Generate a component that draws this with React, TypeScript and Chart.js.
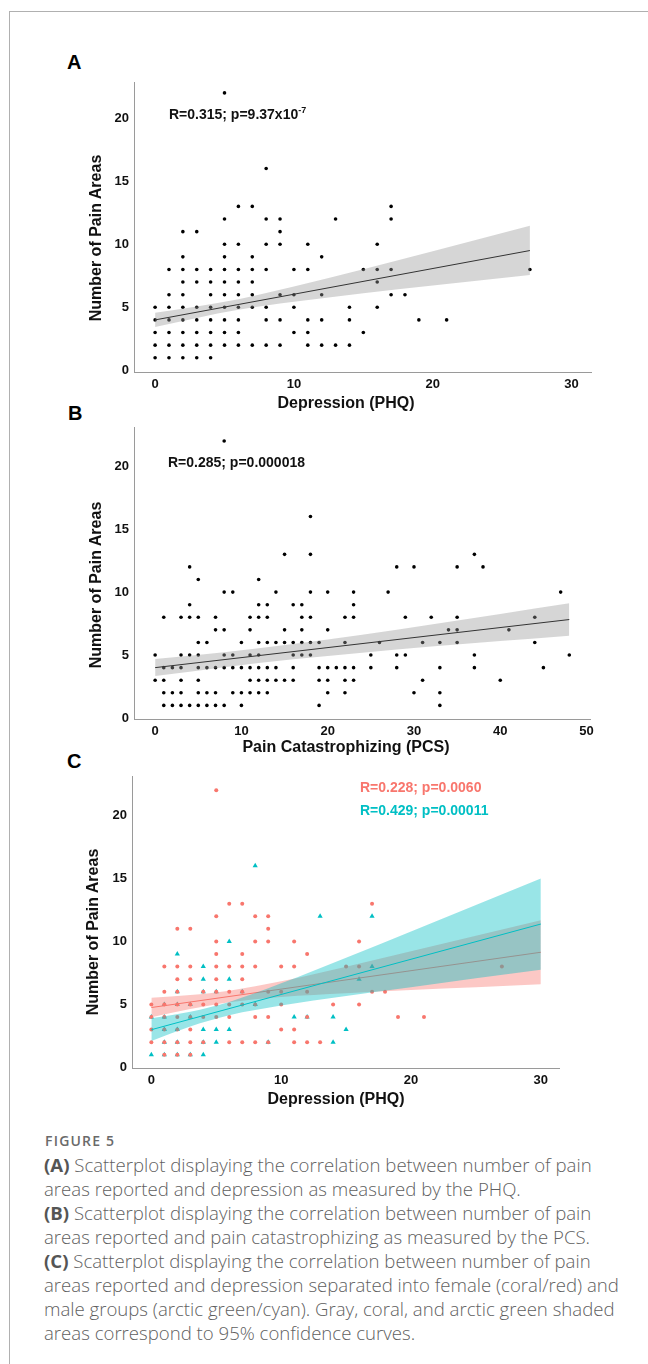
import React, { useEffect, useRef } from "react";
import { Chart, registerables } from "chart.js";

Chart.register(...registerables);

// ---------------- Panel A: pain areas vs depression (PHQ) ----------------
const phqA = [0, 1, 2, 3, 4, 5, 6, 7, 8, 9, 10, 11, 12, 13, 14, 15, 16, 17, 18, 19, 21, 27];
const painAreasA = [
  [1, 2, 3, 4, 5],
  [1, 2, 3, 4, 5, 6, 8],
  [1, 2, 3, 4, 5, 6, 7, 8, 9, 11],
  [1, 2, 3, 4, 5, 7, 8, 11],
  [1, 2, 3, 4, 5, 6, 7, 8],
  [2, 3, 4, 5, 6, 7, 8, 9, 10, 12, 22],
  [2, 3, 4, 5, 6, 7, 8, 10, 13],
  [2, 5, 6, 7, 8, 9, 13],
  [2, 4, 5, 8, 10, 12, 16],
  [2, 4, 6, 10, 11, 12],
  [3, 5, 6, 8],
  [2, 3, 4, 8, 10],
  [2, 4, 6, 9],
  [2, 12],
  [2, 4, 5],
  [3, 8],
  [5, 7, 8, 10],
  [6, 8, 12, 13],
  [6],
  [4],
  [4],
  [8],
];
const fitXA = [0, 27];
const fitYA = [4.0, 9.5];
const bandXA = [0, 3, 6, 10, 15, 20, 27];
const bandUpperA = [4.57, 5.06, 5.64, 6.64, 8.01, 9.44, 11.46];
const bandLowerA = [3.43, 4.16, 4.8, 5.44, 6.12, 6.72, 7.56];

// ---------------- Panel B: pain areas vs pain catastrophizing (PCS) ----------------
const pcsB = [0, 1, 2, 3, 4, 5, 6, 7, 8, 9, 10, 11, 12, 13, 14, 15, 16, 17, 18, 19, 20, 21, 22, 23, 25, 26, 27, 28, 29, 30, 31, 32, 33, 34, 35, 37, 38, 40, 41, 44, 45, 47, 48];
const painAreasB = [
  [3, 5],
  [1, 2, 3, 4, 8],
  [1, 2, 4],
  [1, 2, 3, 4, 5, 8],
  [1, 5, 8, 9, 12],
  [1, 2, 3, 4, 5, 6, 8, 11],
  [1, 2, 4, 6],
  [1, 2, 4, 7, 8],
  [1, 4, 5, 7, 10, 22],
  [2, 4, 5, 10],
  [1, 2, 4, 6],
  [2, 3, 4, 5, 7, 8],
  [2, 3, 4, 5, 6, 8, 9, 11],
  [2, 3, 4, 6, 8, 9],
  [3, 4, 6, 10],
  [3, 6, 7, 13],
  [3, 4, 5, 6, 9],
  [5, 6, 7, 8, 9],
  [5, 6, 8, 10, 13, 16],
  [1, 3, 4, 6],
  [2, 3, 4, 7, 10],
  [4],
  [2, 3, 4, 6, 8],
  [3, 4, 8, 9, 10],
  [4, 5],
  [6],
  [10],
  [4, 5, 12],
  [5, 8],
  [2, 12],
  [3, 6],
  [8],
  [1, 2, 4, 6],
  [7],
  [6, 7, 8, 12],
  [4, 5, 13],
  [12],
  [3],
  [7],
  [6, 8],
  [4],
  [10],
  [5],
];
const fitXB = [0, 48];
const fitYB = [4.0, 7.82];
const bandXB = [0, 8, 16, 24, 32, 40, 48];
const bandUpperB = [4.68, 5.23, 5.88, 6.62, 7.43, 8.26, 9.11];
const bandLowerB = [3.33, 4.04, 4.66, 5.19, 5.67, 6.11, 6.53];

// ---------------- Panel C: by sex, pain areas vs depression (PHQ) ----------------
const phqFemale = [0, 1, 2, 3, 4, 5, 6, 7, 8, 9, 10, 11, 12, 13, 14, 15, 16, 17, 18, 19, 21, 27];
const painFemale = [
  [2, 3, 4, 5],
  [1, 2, 3, 4, 5, 6, 8],
  [1, 2, 3, 4, 5, 6, 7, 8, 11],
  [1, 2, 3, 4, 5, 7, 8, 11],
  [2, 4, 5, 6],
  [4, 5, 6, 7, 8, 9, 10, 12, 22],
  [2, 4, 5, 6, 8, 13],
  [2, 5, 6, 7, 8, 9, 13],
  [2, 4, 5, 8, 10, 12],
  [2, 4, 6, 10, 11, 12],
  [3, 5, 6, 8],
  [2, 3, 8, 10],
  [2, 4, 6, 9],
  [2],
  [5],
  [8],
  [5, 8, 10],
  [6, 13],
  [6],
  [4],
  [4],
  [8],
];
const phqMale = [0, 1, 2, 3, 4, 5, 6, 7, 8, 9, 11, 12, 13, 14, 15, 16, 17];
const painMale = [
  [1, 4],
  [1, 2, 3, 4, 5],
  [1, 2, 3, 5, 6, 9],
  [1, 4, 5],
  [1, 2, 3, 6, 7, 8],
  [2, 3, 6],
  [3, 7, 10],
  [6],
  [5, 16],
  [2],
  [4],
  [4],
  [12],
  [2, 4],
  [3],
  [7],
  [8, 12],
];
const fitX_C = [0, 30];
const fitFemaleY = [4.75, 9.14];
const fitMaleY = [2.99, 11.38];
const bandX_C = [0, 3, 6, 10, 15, 20, 25, 30];
const bandFemaleUpper = [5.53, 5.75, 6.09, 6.83, 7.99, 9.21, 10.45, 11.69];
const bandFemaleLower = [3.97, 4.63, 5.17, 5.59, 5.89, 6.15, 6.37, 6.59];
const bandMaleUpper = [3.9, 4.42, 5.2, 6.67, 8.71, 10.79, 12.89, 15.0];
const bandMaleLower = [2.1, 3.25, 4.14, 4.91, 5.67, 6.37, 7.07, 7.76];

// ---------------- Ticks ----------------
const yTicks = [0, 5, 10, 15, 20];
const xTicksA = [0, 10, 20, 30];
const xTicksB = [0, 10, 20, 30, 40, 50];
const xTicksC = [0, 10, 20, 30];

// ---------------- Styling ----------------
const CORAL = "#F8766D";
const CYAN = "#00BFC4";
const AXIS = "#9a9a9a";
const SANS = '"Liberation Sans", Arial, Helvetica, sans-serif';

function points(xs: number[], ys: number[][]) {
  const out: { x: number; y: number }[] = [];
  xs.forEach((x, i) => ys[i].forEach((y) => out.push({ x, y })));
  return out;
}
function zip(xs: number[], ys: number[]) {
  return xs.map((x, i) => ({ x, y: ys[i] }));
}

function scatterSet(data: any[], color: string, style: string, radius: number, order: number) {
  return {
    type: "scatter",
    data,
    pointStyle: style,
    pointRadius: radius,
    pointBackgroundColor: color,
    pointBorderWidth: 0,
    pointBorderColor: color,
    order,
  };
}
function lineSet(data: any[], color: string, order: number) {
  return {
    type: "line",
    data,
    borderColor: color,
    borderWidth: 1,
    pointRadius: 0,
    fill: false,
    order,
  };
}
function bandSets(xs: number[], up: number[], lo: number[], fillColor: string, order: number) {
  return [
    {
      type: "line",
      data: zip(xs, up),
      borderColor: "transparent",
      borderWidth: 0,
      pointRadius: 0,
      fill: false,
      tension: 0.4,
      cubicInterpolationMode: "monotone",
      order,
    },
    {
      type: "line",
      data: zip(xs, lo),
      borderColor: "transparent",
      borderWidth: 0,
      pointRadius: 0,
      fill: "-1",
      backgroundColor: fillColor,
      tension: 0.4,
      cubicInterpolationMode: "monotone",
      order,
    },
  ];
}

type PanelProps = {
  left: number;
  top: number;
  width: number;
  height: number;
  yAxisW: number;
  xAxisH: number;
  pad: { top: number; right: number; bottom: number; left: number };
  xMin: number;
  xMax: number;
  yMin: number;
  yMax: number;
  xTicks: number[];
  datasets: any[];
};

function Panel(p: PanelProps) {
  const ref = useRef<HTMLCanvasElement>(null);
  useEffect(() => {
    const tickFont = { family: SANS, size: 13, weight: "bold" as const };
    const chart = new Chart(ref.current as HTMLCanvasElement, {
      type: "scatter",
      data: { datasets: p.datasets },
      options: {
        animation: false,
        responsive: false,
        devicePixelRatio: 1,
        events: [],
        layout: { padding: p.pad },
        plugins: { legend: { display: false }, tooltip: { enabled: false } },
        scales: {
          x: {
            type: "linear",
            min: p.xMin,
            max: p.xMax,
            grid: { display: false, drawTicks: false },
            border: { display: true, color: AXIS, width: 1 },
            ticks: { font: tickFont, color: "#111", padding: 5, callback: (v: any) => String(v) },
            afterBuildTicks: (s: any) => {
              s.ticks = p.xTicks.map((v) => ({ value: v }));
            },
            afterFit: (s: any) => {
              s.height = p.xAxisH;
            },
          },
          y: {
            type: "linear",
            min: p.yMin,
            max: p.yMax,
            grid: { display: false, drawTicks: false },
            border: { display: true, color: AXIS, width: 1 },
            ticks: { font: tickFont, color: "#111", padding: 5, callback: (v: any) => String(v) },
            afterBuildTicks: (s: any) => {
              s.ticks = yTicks.map((v) => ({ value: v }));
            },
            afterFit: (s: any) => {
              s.width = p.yAxisW;
            },
          },
        },
      } as any,
    } as any);
    return () => chart.destroy();
  }, []);
  return (
    <canvas
      ref={ref}
      width={p.width}
      height={p.height}
      style={{ position: "absolute", left: p.left, top: p.top, width: p.width, height: p.height }}
    />
  );
}

function Txt({ x, y, children, style }: { x: number; y: number; children: any; style?: any }) {
  return (
    <div
      style={{
        position: "absolute",
        left: x,
        top: y,
        transform: "translateY(-50%)",
        whiteSpace: "nowrap",
        lineHeight: 1,
        ...style,
      }}
    >
      {children}
    </div>
  );
}

function CenterTxt({ x, y, children, style, rotate }: { x: number; y: number; children: any; style?: any; rotate?: boolean }) {
  return (
    <div
      style={{
        position: "absolute",
        left: x,
        top: y,
        transform: `translate(-50%, -50%)${rotate ? " rotate(-90deg)" : ""}`,
        whiteSpace: "nowrap",
        lineHeight: 1,
        ...style,
      }}
    >
      {children}
    </div>
  );
}

const boldTitle = { fontFamily: SANS, fontWeight: 700, fontSize: 16, color: "#111" };
const panelLabel = { fontFamily: SANS, fontWeight: 700, fontSize: 20, color: "#000" };
const stat = { fontFamily: SANS, fontWeight: 700, fontSize: 14, color: "#111" };
const CAPTION_FONT = '"Open Sans", Lato, sans-serif';

const captionLines: [string, string][] = [
  ["(A)", " Scatterplot displaying the correlation between number of pain"],
  ["", "areas reported and depression as measured by the PHQ."],
  ["(B)", " Scatterplot displaying the correlation between number of pain"],
  ["", "areas reported and pain catastrophizing as measured by the PCS."],
  ["(C)", " Scatterplot displaying the correlation between number of pain"],
  ["", "areas reported and depression separated into female (coral/red) and"],
  ["", "male groups (arctic green/cyan). Gray, coral, and arctic green shaded"],
  ["", "areas correspond to 95% confidence curves."],
];

export default function App() {
  const dsA = [
    scatterSet(points(phqA, painAreasA), "#000", "circle", 1.8, 3),
    ...bandSets(bandXA, bandUpperA, bandLowerA, "rgba(153,153,153,0.4)", 2),
    lineSet(zip(fitXA, fitYA), "#333", 1),
  ];
  const dsB = [
    scatterSet(points(pcsB, painAreasB), "#000", "circle", 1.8, 3),
    ...bandSets(bandXB, bandUpperB, bandLowerB, "rgba(153,153,153,0.4)", 2),
    lineSet(zip(fitXB, fitYB), "#333", 1),
  ];
  const dsC = [
    scatterSet(points(phqMale, painMale), CYAN, "triangle", 3, 6),
    scatterSet(points(phqFemale, painFemale), CORAL, "circle", 2, 5),
    ...bandSets(bandX_C, bandFemaleUpper, bandFemaleLower, "rgba(248,118,109,0.4)", 4),
    lineSet(zip(fitX_C, fitFemaleY), CORAL, 3),
    ...bandSets(bandX_C, bandMaleUpper, bandMaleLower, "rgba(0,191,196,0.4)", 2),
    lineSet(zip(fitX_C, fitMaleY), CYAN, 1),
  ];

  return (
    <div
      style={{
        position: "absolute",
        left: 0,
        top: 0,
        width: 648,
        height: 1364,
        background: "#fff",
        overflow: "hidden",
        fontFamily: SANS,
      }}
    >
      <div
        style={{
          position: "absolute",
          left: 9,
          top: 11,
          right: -2,
          bottom: -2,
          borderTop: "1px solid #b0b0b0",
          borderLeft: "1px solid #b0b0b0",
        }}
      />

      {/* Panel A */}
      <Panel
        left={100}
        top={70}
        width={510}
        height={330}
        yAxisW={34}
        xAxisH={24}
        pad={{ top: 8, right: 19, bottom: 4, left: 0 }}
        xMin={-1.52}
        xMax={31.4}
        yMin={-0.13}
        yMax={22.8}
        xTicks={xTicksA}
        datasets={dsA}
      />
      {/* Panel B */}
      <Panel
        left={100}
        top={415}
        width={510}
        height={330}
        yAxisW={34}
        xAxisH={22}
        pad={{ top: 8, right: 20, bottom: 4, left: 0 }}
        xMin={-2.45}
        xMax={50.4}
        yMin={-0.08}
        yMax={23.05}
        xTicks={xTicksB}
        datasets={dsB}
      />
      {/* Panel C */}
      <Panel
        left={100}
        top={764}
        width={480}
        height={330}
        yAxisW={32}
        xAxisH={22}
        pad={{ top: 8, right: 21, bottom: 4, left: 0 }}
        xMin={-1.49}
        xMax={31.4}
        yMin={-0.05}
        yMax={23.07}
        xTicks={xTicksC}
        datasets={dsC}
      />

      {/* Panel labels */}
      <Txt x={67} y={62} style={panelLabel}>A</Txt>
      <Txt x={68} y={413} style={panelLabel}>B</Txt>
      <Txt x={67} y={761} style={panelLabel}>C</Txt>

      {/* Axis titles */}
      <CenterTxt x={96} y={238} rotate style={boldTitle}>Number of Pain Areas</CenterTxt>
      <CenterTxt x={96} y={585} rotate style={boldTitle}>Number of Pain Areas</CenterTxt>
      <CenterTxt x={93} y={932} rotate style={boldTitle}>Number of Pain Areas</CenterTxt>
      <CenterTxt x={346} y={403} style={boldTitle}>Depression (PHQ)</CenterTxt>
      <CenterTxt x={346} y={747} style={boldTitle}>Pain Catastrophizing (PCS)</CenterTxt>
      <CenterTxt x={336} y={1099} style={boldTitle}>Depression (PHQ)</CenterTxt>

      {/* Statistics */}
      <Txt x={169} y={114} style={stat}>
        R=0.315; p=9.37x10
        <span style={{ fontSize: 9, position: "relative", top: -6 }}>-7</span>
      </Txt>
      <Txt x={168} y={462} style={stat}>R=0.285; p=0.000018</Txt>
      <Txt x={360} y={787} style={{ ...stat, color: CORAL }}>R=0.228; p=0.0060</Txt>
      <Txt x={360} y={810} style={{ ...stat, color: CYAN }}>R=0.429; p=0.00011</Txt>

      {/* Caption */}
      <Txt
        x={45}
        y={1141}
        style={{ fontFamily: CAPTION_FONT, fontWeight: 600, fontSize: 14, letterSpacing: 1.2, color: "#6a6a6a" }}
      >
        FIGURE 5
      </Txt>
      {captionLines.map(([lead, rest], i) => (
        <Txt
          key={i}
          x={44}
          y={1165 + i * 24}
          style={{ fontFamily: CAPTION_FONT, fontWeight: 300, fontSize: 18.6, color: "#5f5f5f" }}
        >
          {lead ? <span style={{ fontWeight: 700, color: "#555" }}>{lead}</span> : null}
          {rest}
        </Txt>
      ))}
    </div>
  );
}
